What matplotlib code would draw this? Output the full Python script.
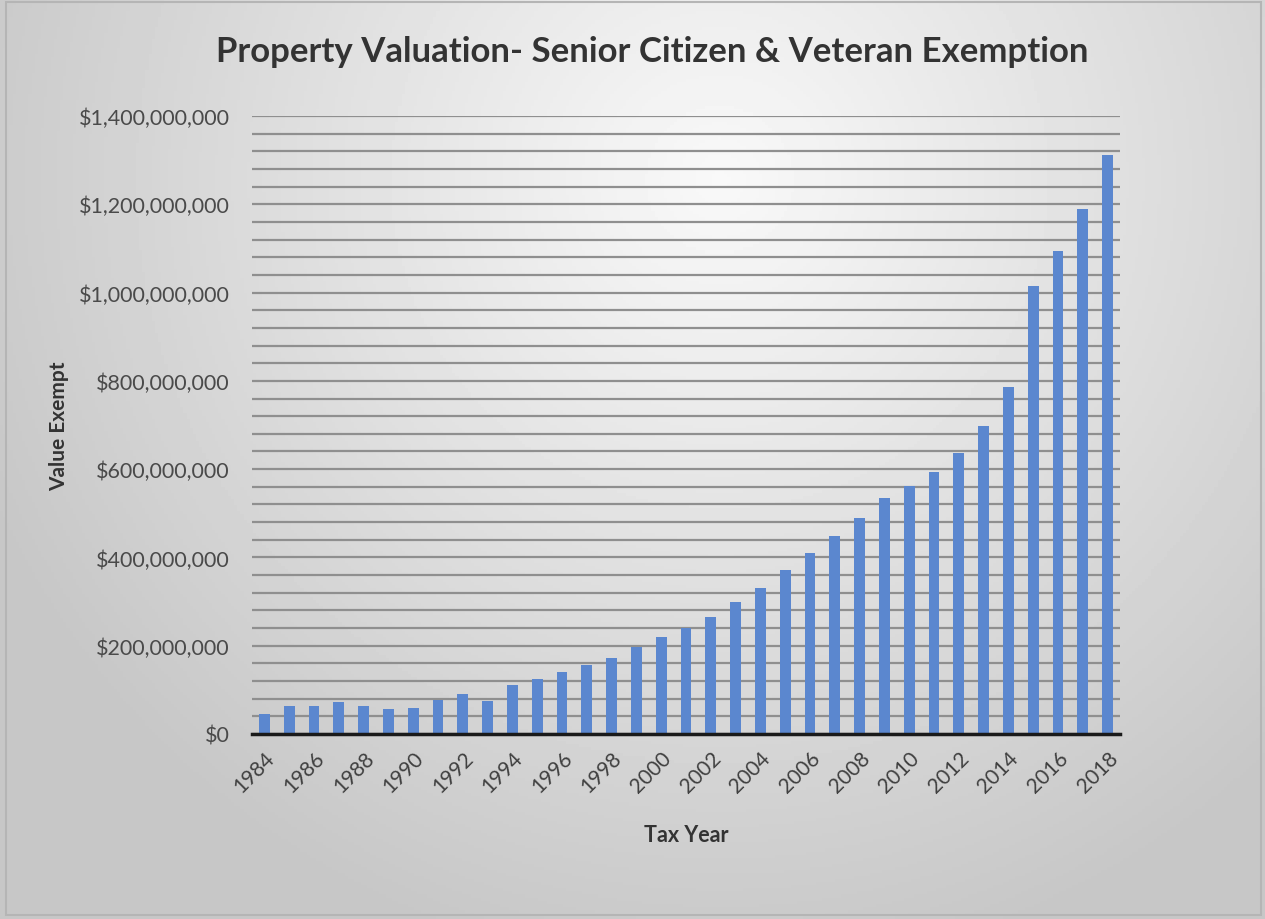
import matplotlib
matplotlib.use("Agg")
import matplotlib.pyplot as plt
import numpy as np
from matplotlib.ticker import FuncFormatter, MultipleLocator
from matplotlib.patches import Rectangle

plt.rcParams['font.family'] = ['Lato', 'DejaVu Sans']

# exempt value by tax year
years = list(range(1984, 2019))
value_exempt = [45e6, 63e6, 63e6, 72e6, 63e6, 57e6, 60e6, 76e6, 91e6, 75e6,
                111e6, 125e6, 141e6, 156e6, 172e6, 197e6, 220e6, 240e6, 265e6, 299e6,
                331e6, 372e6, 410e6, 449e6, 489e6, 535e6, 562e6, 594e6, 637e6, 698e6,
                787e6, 1015e6, 1094e6, 1189e6, 1312e6]
year_labels = [str(y) if y % 2 == 0 else "" for y in years]

fig = plt.figure(figsize=(12.65, 9.2), dpi=100)

# soft radial backdrop
bg = fig.add_axes([0, 0, 1, 1], zorder=-10)
gx, gy = np.meshgrid(np.linspace(0, 1265, 400), np.linspace(0, 920, 300))
r = np.sqrt(((gx - 720) / 900) ** 2 + ((gy - 180) / 900) ** 2)
shade = np.clip(0.975 - 0.22 * r, 0.78, 0.975)
bg.imshow(shade, cmap='gray', vmin=0, vmax=1, extent=[0, 1265, 920, 0], aspect='auto')
bg.set_xlim(0, 1265)
bg.set_ylim(920, 0)
bg.axis('off')
bg.add_patch(Rectangle((6, 3), 1255, 913, fill=False, edgecolor='#b5b5b5', linewidth=1.5))

ax = fig.add_axes([252 / 1265, 1 - 735 / 920, (1120 - 252) / 1265, (735 - 117) / 920])
ax.set_facecolor('none')

x = np.arange(len(years))
ax.bar(x, value_exempt, width=0.43, color='#5b87cf', zorder=3)

ax.set_xlim(-0.5, len(years) - 0.5)
ax.set_ylim(0, 1.4e9)
ax.yaxis.set_major_locator(MultipleLocator(2e8))
ax.yaxis.set_minor_locator(MultipleLocator(4e7))
ax.yaxis.set_major_formatter(FuncFormatter(lambda v, p: "${:,.0f}".format(v)))
ax.grid(axis='y', which='both', color='#8f8f8f', linewidth=1.6, zorder=1)
ax.set_axisbelow(True)

ax.set_xticks(x)
ax.set_xticklabels(year_labels, rotation=45, ha='right', rotation_mode='anchor',
                   fontsize=15, color='#404040')
ax.tick_params(axis='x', length=0, pad=10)
ax.tick_params(axis='y', which='both', length=0, labelsize=15.5, labelcolor='#4a4a4a', pad=16)

for s in ['top', 'right', 'left']:
    ax.spines[s].set_visible(False)
ax.spines['bottom'].set_color('#1a1a1a')
ax.spines['bottom'].set_linewidth(2.5)
ax.spines['bottom'].set_zorder(4)

ax.set_xlabel("Tax Year", fontsize=15.5, fontweight='bold', color='#333333', labelpad=20)
ax.set_ylabel("Value Exempt", fontsize=15, fontweight='bold', color='#333333', labelpad=7)

fig.text(652 / 1265, 1 - 52 / 920, "Property Valuation- Senior Citizen & Veteran Exemption",
         ha='center', va='center', fontsize=25, fontweight='bold', color='#333333')

fig.savefig("out.png", dpi=100)
